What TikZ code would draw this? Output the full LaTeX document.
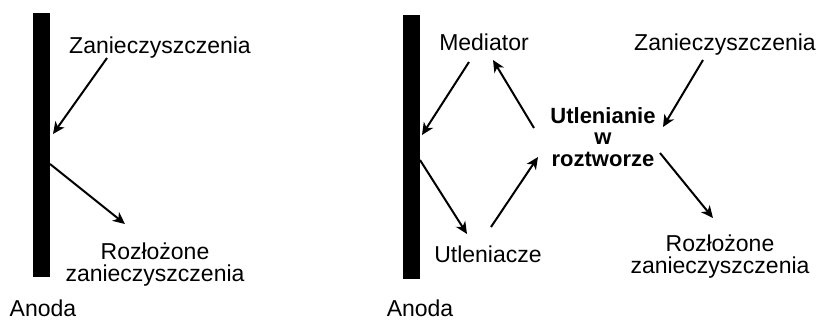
\documentclass[tikz,border=0pt]{standalone}
\usepackage{fontspec}
\setmainfont{Liberation Sans}
\usetikzlibrary{arrows.meta}
\begin{document}
\begin{tikzpicture}[x=1pt,y=-1pt,
  txt/.style={font=\fontsize{23}{22}\selectfont, inner sep=0pt, align=center},
  btxt/.style={font=\fontsize{22}{21.5}\selectfont\bfseries, inner sep=0pt, align=center},
  arr/.style={line width=2pt, -{Stealth[length=12pt,width=11pt,inset=3.5pt]}},
  anodebar/.style={fill=black, draw=none, inner sep=0pt, minimum width=17pt, minimum height=264pt}]
\useasboundingbox (0,0) rectangle (820,322);

% ---------- left panel ----------
\node[anodebar] (barL) at (41.5,145) {};
\node[txt, anchor=base] (zanL) at (160,53) {Zanieczyszczenia};
\node[txt, anchor=base] (rozL) at (155,281) {Rozłożone\\zanieczyszczenia};
\node[txt, anchor=base] (anodaL) at (43,316) {Anoda};

\coordinate (zanLs) at (107,58);
\coordinate (barLin) at (53,134);
\coordinate (barLout) at (50,164);
\coordinate (rozLe) at (125,224);
\draw[arr] (zanLs) -- (barLin);
\draw[arr] (barLout) -- (rozLe);

% ---------- right panel ----------
\node[anodebar] (barR) at (411.5,146.5) {};
\node[txt, anchor=base] (med) at (484,50) {Mediator};
\node[txt, anchor=base] (zanR) at (725,50) {Zanieczyszczenia};
\node[btxt, anchor=base] (utl) at (603,166) {Utlenianie\\w\\roztworze};
\node[txt, anchor=base] (utc) at (488,262) {Utleniacze};
\node[txt, anchor=base] (rozR) at (720,273) {Rozłożone\\zanieczyszczenia};
\node[txt, anchor=base] (anodaR) at (420,316) {Anoda};

\coordinate (meds) at (469,62);
\coordinate (barRin) at (422,135);
\coordinate (utlA) at (534,128);
\coordinate (medE) at (493,60);
\coordinate (zanRs) at (703,60);
\coordinate (utlB) at (663,127);
\coordinate (barRout) at (420,160);
\coordinate (utcE) at (467,234);
\coordinate (utcS) at (491,227);
\coordinate (utlC) at (538,157);
\coordinate (utlD) at (660,153);
\coordinate (rozRe) at (713,218);

\draw[arr] (meds) -- (barRin);
\draw[arr] (utlA) -- (medE);
\draw[arr] (zanRs) -- (utlB);
\draw[arr] (barRout) -- (utcE);
\draw[arr] (utcS) -- (utlC);
\draw[arr] (utlD) -- (rozRe);
\end{tikzpicture}
\end{document}
